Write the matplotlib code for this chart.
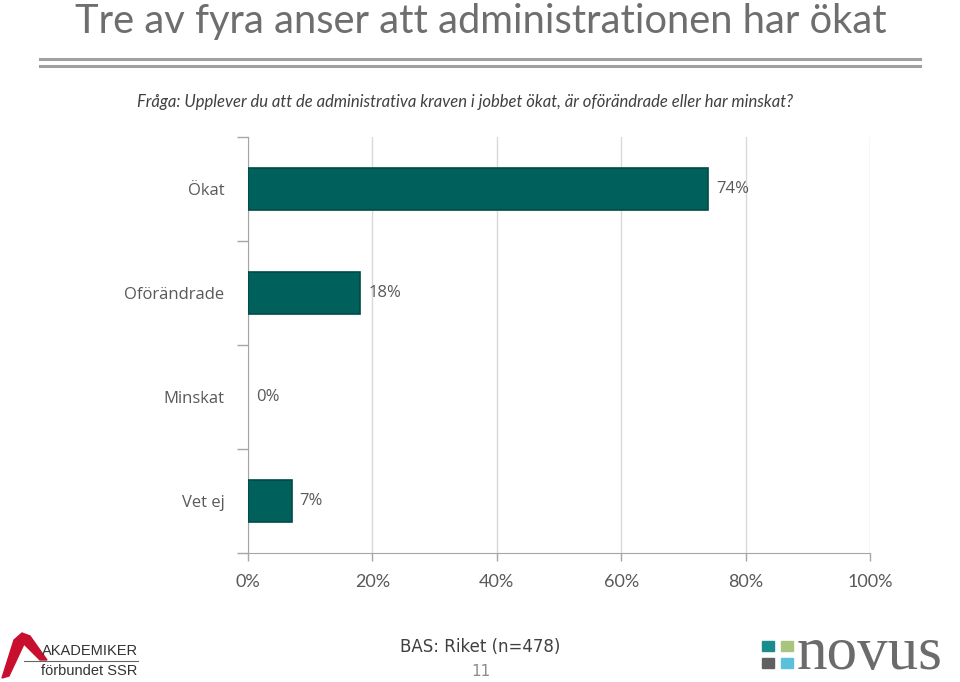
import matplotlib
matplotlib.use("Agg")
import matplotlib.pyplot as plt
from matplotlib.patches import Rectangle, Polygon
from matplotlib.lines import Line2D

categories = ["Ökat", "Oförändrade", "Minskat", "Vet ej"]
values = [74, 18, 0, 7]
value_labels = ["74%", "18%", "0%", "7%"]
xticks = [0, 20, 40, 60, 80, 100]
xtick_labels = ["0%", "20%", "40%", "60%", "80%", "100%"]

title = "Tre av fyra anser att administrationen har ökat"
question = "Fråga: Upplever du att de administrativa kraven i jobbet ökat, är oförändrade eller har minskat?"
base_text = "BAS: Riket (n=478)"
page_no = "11"

gray = "#595959"
bar_color = "#00605C"

plt.rcParams['font.family'] = ['Lato', 'DejaVu Sans']

fig = plt.figure(figsize=(9.6, 6.82), dpi=100)
W, H = 960, 682

def fx(px):
    return px / W

def fy(py):
    return 1 - py / H

# title and rules
fig.text(fx(481), fy(33), title, ha="center", va="baseline", fontsize=28.7,
         color="#6e6e6e", fontweight="normal")
for yy in (59, 66):
    fig.add_artist(Line2D([fx(40), fx(920)], [fy(yy), fy(yy)], color="#a0a0a0", lw=2.2))
fig.text(fx(465), fy(102), question, ha="center", va="center", fontsize=12,
         color="#404040", style="italic")

# chart
ax = fig.add_axes([fx(248), fy(553), fx(870) - fx(248), (553 - 137) / H])
y = list(range(len(categories)))
ax.barh(y, values, height=0.4, color=bar_color, edgecolor="#004a47",
        lw=[1.2 if v > 0 else 0 for v in values], zorder=3)
for yi, v, lab in zip(y, values, value_labels):
    ax.text(v + 1.3, yi, lab, va="center", ha="left", fontsize=12, color=gray,
            family=["Open Sans", "DejaVu Sans"])
ax.set_ylim(3.5, -0.5)
ax.set_xlim(0, 100)
ax.set_yticks(y)
ax.set_yticklabels(categories, fontsize=12, color=gray, family=["Open Sans", "DejaVu Sans"])
ax.tick_params(axis="y", length=0, pad=17)
ax.set_yticks([-0.5, 0.5, 1.5, 2.5, 3.5], minor=True)
ax.tick_params(axis="y", which="minor", length=8, color="#a6a6a6", width=1)
ax.set_xticks(xticks)
ax.set_xticklabels(xtick_labels, fontsize=13, color=gray)
ax.tick_params(axis="x", length=6, color="#a6a6a6", width=1, pad=9)
ax.grid(axis="x", color="#d9d9d9", lw=1, zorder=0)
for s in ("top", "right"):
    ax.spines[s].set_visible(False)
for s in ("left", "bottom"):
    ax.spines[s].set_color("#a6a6a6")

# footer
fig.text(fx(480), fy(647), base_text, ha="center", va="center", fontsize=12,
         color="#404040", family=["DejaVu Sans"])
fig.text(fx(481), fy(672), page_no, ha="center", va="center", fontsize=11, color="#8c8c8c",
         family=["DejaVu Sans"])

# Akademikerförbundet SSR logo (approximation)
swoosh = Polygon([(fx(2), fy(678)), (fx(14), fy(640)), (fx(22), fy(633)), (fx(30), fy(636)),
                  (fx(47), fy(660)), (fx(40), fy(660)), (fx(24), fy(644)), (fx(9), fy(676))],
                 closed=True, color="#c8102e", transform=fig.transFigure)
fig.add_artist(swoosh)
fig.text(fx(42), fy(651), "AKADEMIKER", ha="left", va="center", fontsize=10.5, color="#333333",
         family=["Liberation Sans"])
fig.add_artist(Line2D([fx(24), fx(138)], [fy(661), fy(661)], color="#666666", lw=0.8))
fig.text(fx(41), fy(671), "förbundet SSR", ha="left", va="center", fontsize=10.5, color="#333333",
         family=["Liberation Sans"])

# Novus logo (approximation)
sq = [(762, 641, "#1a8c8c"), (781, 641, "#a9c47f"), (762, 658, "#606060"), (781, 658, "#5bc0d9")]
for px, py, c in sq:
    fig.add_artist(Rectangle((fx(px), fy(py + 10)), fx(12), 10 / H, color=c,
                             transform=fig.transFigure))
fig.text(fx(797), fy(669), "novus", ha="left", va="baseline", fontsize=44, color="#6b6b6b",
         family=["Liberation Serif", "DejaVu Serif"])

fig.savefig("out.png", dpi=100)
